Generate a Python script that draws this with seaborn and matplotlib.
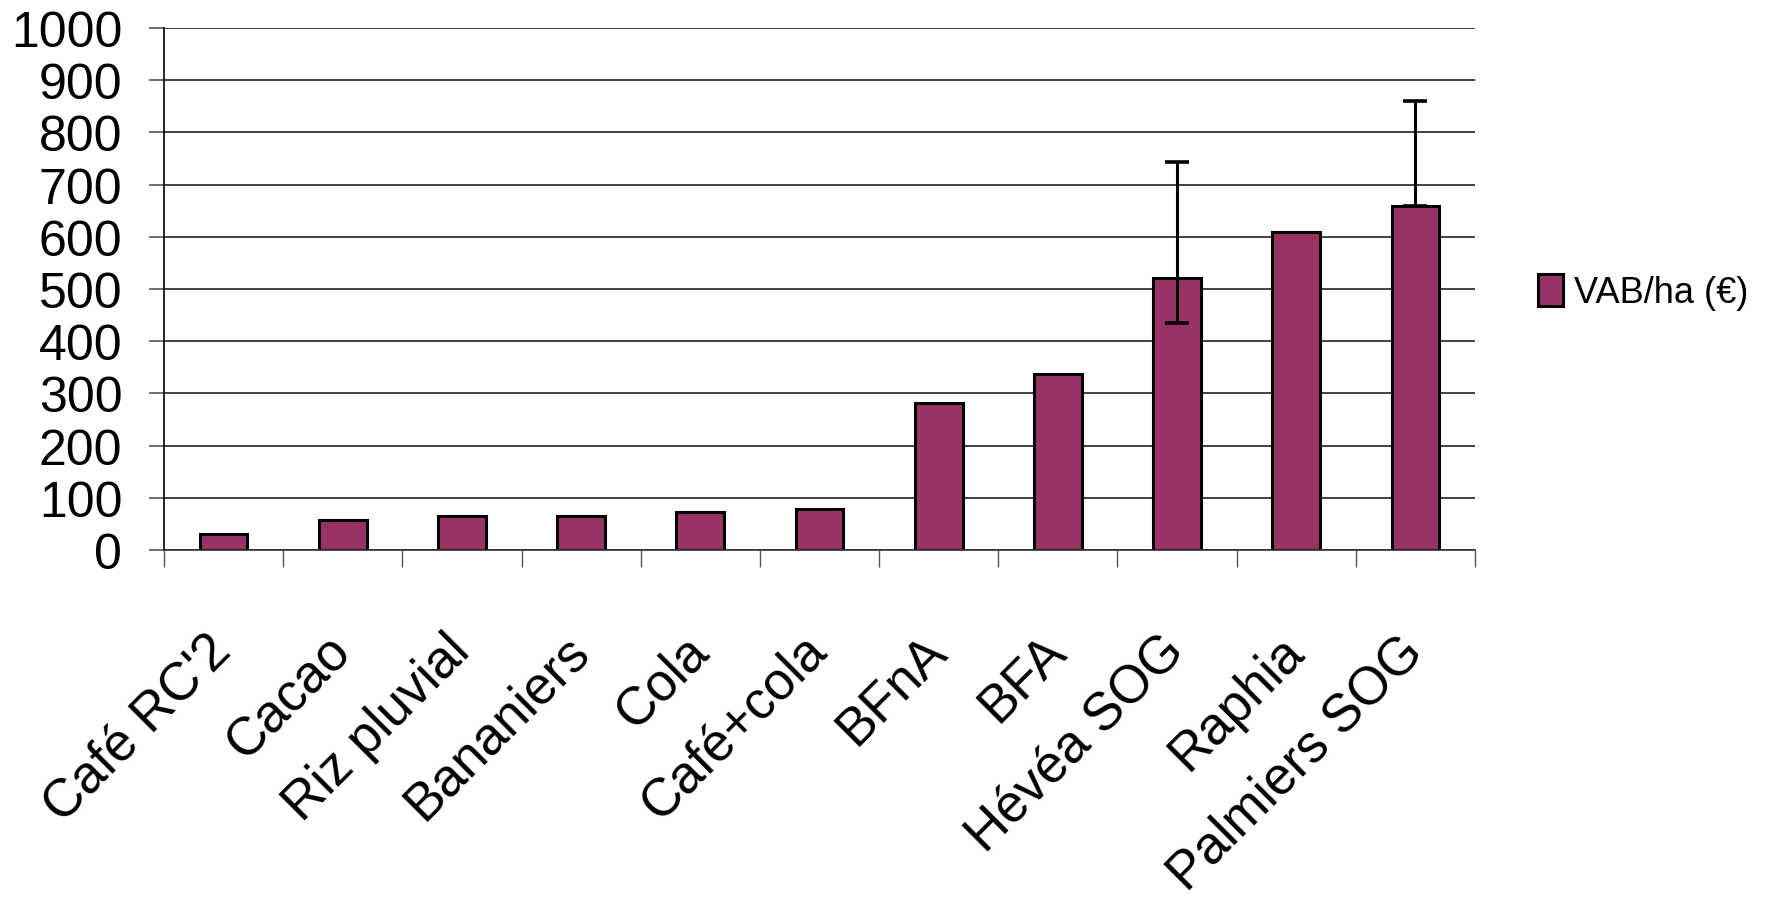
import matplotlib
matplotlib.use("Agg")
import matplotlib.pyplot as plt
import matplotlib as mpl
import seaborn as sns
import pandas as pd
import numpy as np

sns.set_theme(style="white")
mpl.rcParams.update({
    'font.family': ['Liberation Sans', 'DejaVu Sans'],
    'axes.linewidth': 1.2,
    'text.color': 'black',
    'xtick.color': 'black',
    'ytick.color': 'black',
})

# data
cultures = ["Café RC'2", "Cacao", "Riz pluvial", "Bananiers", "Cola", "Café+cola",
            "BFnA", "BFA", "Hévéa SOG", "Raphia", "Palmiers SOG"]
vab_ha = [30, 58, 65, 65, 72, 79, 281, 337, 521, 609, 658]
err_low = [0, 0, 0, 0, 0, 0, 0, 0, 86, 0, 0]
err_high = [0, 0, 0, 0, 0, 0, 0, 0, 222, 0, 202]
serie = "VAB/ha (€)"
y_ticks = list(range(0, 1001, 100))

df = pd.DataFrame({"Culture": cultures, "VAB": vab_ha})

fig = plt.figure(figsize=(17.69, 9.04), dpi=100)
ax = fig.add_axes([0.0927, 0.3905, 0.7411, 0.5775])

sns.barplot(data=df, x="Culture", y="VAB", color="#993366", saturation=1,
            width=0.4, edgecolor="black", linewidth=2.2, errorbar=None,
            label=serie, ax=ax)

# custom error bars (only where present)
has_err = [i for i in range(len(cultures)) if err_low[i] or err_high[i]]
ax.errorbar(has_err, [vab_ha[i] for i in has_err],
            yerr=[[err_low[i] for i in has_err], [err_high[i] for i in has_err]],
            fmt="none", ecolor="black", elinewidth=2.2, capsize=8.6, capthick=2.6,
            zorder=5)

ax.set_ylim(0, 1000)
ax.set_xlim(-0.5, len(cultures) - 0.5)
ax.set_yticks(y_ticks)
ax.set_yticklabels([str(v) for v in y_ticks], fontsize=36, color="black")
ax.yaxis.grid(True, color="#333333", linewidth=1.3)
ax.xaxis.grid(False)
ax.set_axisbelow(True)
ax.set_xlabel("")
ax.set_ylabel("")

ax.tick_params(axis="y", which="major", direction="out", length=11, width=1.2,
               color="#555555", pad=19, left=True)
ax.tick_params(axis="x", which="major", length=0, pad=67)
ax.set_xticks(range(len(cultures)))
ax.set_xticklabels(cultures, fontsize=38, rotation=45, ha="right", va="center",
                   rotation_mode="anchor", color="black")
ax.set_xticks(np.arange(-0.5, len(cultures), 1.0), minor=True)
ax.tick_params(axis="x", which="minor", direction="out", length=12, width=1.0,
               color="#555555", bottom=True)

sns.despine(ax=ax, top=True, right=True)
ax.spines["left"].set_color("black")
ax.spines["bottom"].set_color("#333333")

handles, labels = ax.get_legend_handles_labels()
if ax.get_legend() is not None:
    ax.get_legend().remove()
fig.legend(handles, labels, loc="center left", bbox_to_anchor=(0.859, 0.676),
           frameon=False, fontsize=26, handlelength=0.7, handleheight=1.0,
           handletextpad=0.3, borderpad=0, labelcolor="black")

fig.savefig("out.png", dpi=100)
